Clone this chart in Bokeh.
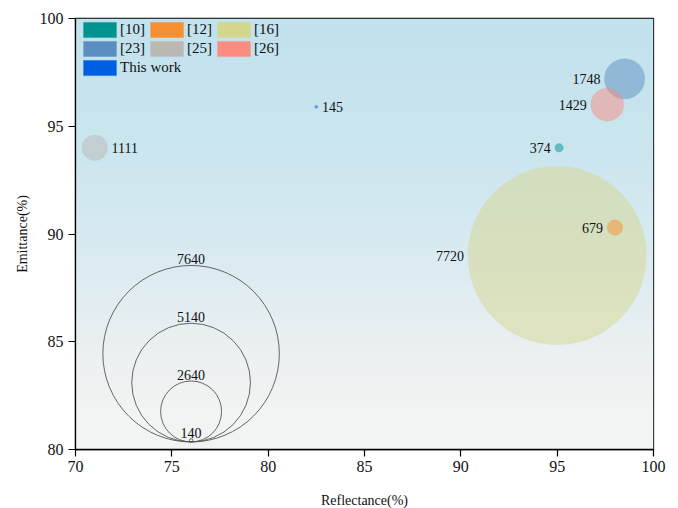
import numpy as np
from bokeh.plotting import figure
from bokeh.models import ColumnDataSource, Legend, LegendItem, Range1d
from bokeh.core.properties import value
from bokeh.embed import file_html
from bokeh.resources import INLINE

# ---- data ----
refs = ["[10]", "[12]", "[16]", "[23]", "[25]", "[26]", "This work"]
colors = ["#00938f", "#f78f33", "#d5d68e", "#5b8ec0", "#b9b8b3", "#fa8c80", "#005fe0"]
reflectance = [95.1, 98.0, 95.0, 98.5, 71.0, 97.6, 82.5]
emittance = [94.0, 90.3, 89.0, 97.2, 94.0, 96.0, 95.9]
bubble_values = [374, 679, 7720, 1748, 1111, 1429, 145]
label_side = ["left", "left", "left", "left", "right", "left", "right"]

ref_values = [7640, 5140, 2640, 140]
ref_x = 76.0
ref_base = 80.35

x_ticks = [70, 75, 80, 85, 90, 95, 100]
y_ticks = [80, 85, 90, 95, 100]

# ---- layout constants ----
FONT = "Liberation Serif"
FRAME_W, FRAME_H = 578, 431
DIAM_PER_VALUE = 0.0231  # px of diameter per unit of value

p = figure(width=670, height=504, frame_width=FRAME_W, frame_height=FRAME_H,
           x_range=Range1d(70, 100), y_range=Range1d(80, 100),
           output_backend="svg", toolbar_location=None,
           min_border_left=75, min_border_top=18, min_border_right=17, min_border_bottom=40)

# background gradient
stops_y = [80, 82, 85, 89, 94, 100]
stops_c = [(243, 243, 243), (242, 243, 243), (234, 240, 242), (218, 235, 241), (203, 230, 239), (194, 226, 238)]
N = 200
ys = np.linspace(80, 100, N)
img = np.empty((N, 2), dtype=np.uint32)
view = img.view(dtype=np.uint8).reshape((N, 2, 4))
for ch in range(3):
    view[:, :, ch] = np.interp(ys, stops_y, [c[ch] for c in stops_c])[:, None].astype(np.uint8)
view[:, :, 3] = 255
p.image_rgba(image=[img], x=70, y=80, dw=30, dh=20)

# bubbles, largest first
order = sorted(range(len(bubble_values)), key=lambda i: -bubble_values[i])
src = ColumnDataSource(dict(
    x=[reflectance[i] for i in order],
    y=[emittance[i] for i in order],
    size=[bubble_values[i] * DIAM_PER_VALUE for i in order],
    color=[colors[i] for i in order],
))
p.scatter("x", "y", size="size", fill_color="color", fill_alpha=0.5,
          line_color="color", line_alpha=0.15, source=src)

# bubble labels
lab = ColumnDataSource(dict(
    x=reflectance, y=emittance, text=[str(v) for v in bubble_values],
    xo=[(-1 if s == "left" else 1) * (v * DIAM_PER_VALUE / 2 + 4) for v, s in zip(bubble_values, label_side)],
    align=["right" if s == "left" else "left" for s in label_side],
))
p.text("x", "y", text="text", x_offset="xo", text_align="align", text_baseline="middle",
       text_font=value(FONT), text_font_size="14px", text_color="#111111", source=lab)

# reference size circles
py_per_unit = FRAME_H / 20.0
ref_r = [v * DIAM_PER_VALUE / 2 for v in ref_values]
rsrc = ColumnDataSource(dict(
    x=[ref_x] * len(ref_values),
    y=[ref_base + r / py_per_unit for r in ref_r],
    size=[2 * r for r in ref_r],
    text=[str(v) for v in ref_values],
    yo=[-(r + 1) for r in ref_r],
))
p.scatter("x", "y", size="size", fill_alpha=0, line_color="#555555", line_width=0.9, source=rsrc)
p.text("x", "y", text="text", y_offset="yo", text_align="center", text_baseline="bottom",
       text_font=value(FONT), text_font_size="14px", text_color="#111111", source=rsrc)

# legend swatches (dummy quads kept outside the visible range)
items = []
for name, c in zip(refs, colors):
    r = p.quad(left=[0], right=[1], top=[1], bottom=[0], fill_color=c, line_color=c, line_alpha=0.4)
    items.append(LegendItem(label=name, renderers=[r]))

GH = 19
def make_legend(its, loc):
    lg = Legend(items=its, location=loc, orientation="horizontal", ncols=3,
                glyph_width=41, glyph_height=GH, label_height=GH, label_width=26,
                label_standoff=0, spacing=0, padding=0, margin=0,
                label_text_font=FONT, label_text_font_size="15px", label_text_color="#111111",
                background_fill_alpha=0, border_line_alpha=0)
    p.add_layout(lg, "center")
    return lg

make_legend(items[:6], (4, FRAME_H - 2 - 2 * GH))
make_legend(items[6:], (4, FRAME_H - 2 - 3 * GH))

# axes styling
p.xgrid.visible = False
p.ygrid.visible = False
p.outline_line_color = "black"
p.outline_line_width = 1.3
p.outline_line_alpha = 1
for ax in (p.xaxis[0], p.yaxis[0]):
    ax.axis_line_color = "black"
    ax.axis_line_width = 1.3
    ax.major_tick_line_color = "black"
    ax.minor_tick_line_color = "black"
    ax.major_tick_line_width = 1.2
    ax.minor_tick_line_width = 1.2
    ax.major_tick_out = 7
    ax.major_tick_in = 0
    ax.minor_tick_out = 4
    ax.minor_tick_in = 0
    ax.major_label_text_font = FONT
    ax.major_label_text_font_size = "16px"
    ax.major_label_text_color = "#111111"
    ax.axis_label_text_font = FONT
    ax.axis_label_text_font_size = "14px"
    ax.axis_label_text_font_style = "normal"
    ax.axis_label_text_color = "#111111"
p.xaxis.ticker = x_ticks
p.yaxis.ticker = y_ticks
p.xaxis[0].ticker.num_minor_ticks = 2
p.yaxis[0].ticker.num_minor_ticks = 2
p.xaxis.axis_label = "Reflectance(%)"
p.yaxis.axis_label = "Emittance(%)"
p.xaxis.major_label_standoff = 4
p.xaxis.axis_label_standoff = 18
p.yaxis.major_label_standoff = 5
p.yaxis.axis_label_standoff = 7
p.background_fill_color = "white"
p.border_fill_color = "white"

open("out.html", "w").write(file_html(p, INLINE))
